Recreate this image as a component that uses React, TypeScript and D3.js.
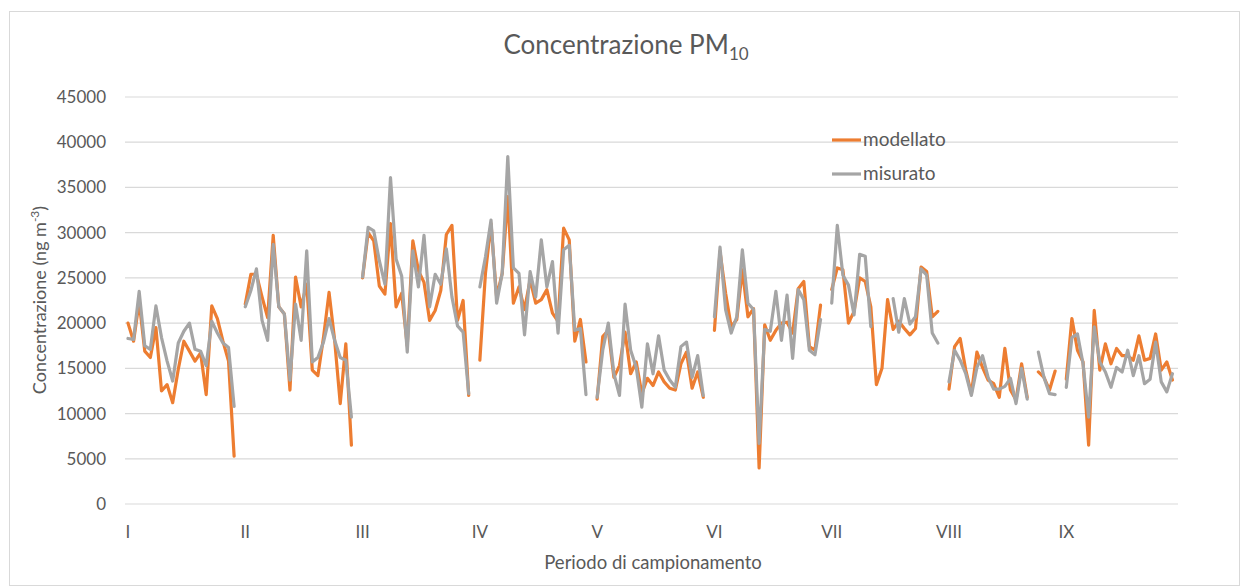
import React from "react";
import * as d3 from "d3";

const periods = ["I", "II", "III", "IV", "V", "VI", "VII", "VIII", "IX"];
const slotsPerPeriod = 21;
const yTicks = [0, 5000, 10000, 15000, 20000, 25000, 30000, 35000, 40000, 45000];

const N = null;
const modellato: (number | null)[] = [
  // I
  20000, 18000, 22400, 16900, 16200, 19500, 12500, 13200, 11200, 14900, 18000, 16900, 15800, 16700, 12100, 21900, 20500, 18000, 15800, 5300, N,
  // II
  22100, 25400, 25400, 22900, 20600, 29700, 21800, 21000, 12600, 25100, 21800, 24300, 14800, 14200, 18400, 23400, 18100, 11100, 17700, 6500, N,
  // III
  25000, 30000, 29100, 24100, 23200, 31000, 21800, 23300, 17500, 29100, 25800, 24500, 20300, 21400, 23600, 29800, 30800, 20300, 22500, 12000, N,
  // IV
  15900, 25500, 31000, 22900, 25500, 34000, 22200, 24000, 21500, 24800, 22200, 22600, 23700, 21100, 20200, 30500, 29200, 18000, 20400, 15700, N,
  // V
  11600, 18500, 19200, 14000, 15300, 19000, 14400, 15700, 12200, 13900, 13100, 14600, 13500, 12800, 12600, 15500, 16800, 12800, 14600, 11800, N,
  // VI
  19200, 27900, 23300, 19600, 20400, 25900, 20700, 21600, 4000, 19800, 18100, 19200, 20000, 20100, 18900, 23800, 24600, 17400, 17000, 22000, N,
  // VII
  23700, 26100, 25900, 20000, 21300, 25000, 24600, 21800, 13200, 15000, 22600, 19300, 20200, 19400, 18700, 19400, 26200, 25700, 20700, 21300, N,
  // VIII
  12700, 17400, 18300, 14800, 12200, 16800, 15100, 13700, 13300, 11800, 17200, 12600, 11500, 15500, 11800, N, 14600, 14000, 12600, 14700, N,
  // IX
  13800, 20500, 17000, 15700, 6500, 21400, 14800, 17700, 15500, 17200, 16400, 16400, 15900, 18600, 15900, 16100, 18800, 14800, 15700, 13700, N,
];

const misurato: (number | null)[] = [
  // I
  18300, 18200, 23500, 17500, 17100, 21900, 18400, 15800, 13600, 17800, 19100, 20000, 17100, 16900, 15300, 20200, 18900, 17800, 17300, 10800, N,
  // II
  21800, 23600, 26000, 20300, 18100, 28700, 21800, 21000, 13700, 22100, 18100, 28000, 15700, 16200, 17900, 20500, 18100, 16200, 15900, 9600, N,
  // III
  25100, 30600, 30200, 26900, 24300, 36100, 27100, 25200, 16800, 28000, 24000, 29700, 21800, 25400, 24300, 28200, 22900, 19700, 19000, 12200, N,
  // IV
  24000, 27300, 31400, 22200, 25500, 38400, 26100, 25500, 18700, 25700, 22900, 29200, 24000, 26800, 18900, 28100, 28600, 19200, 19400, 12100, N,
  // V
  11800, 17000, 20000, 14400, 12000, 22100, 17000, 15100, 10700, 17700, 14400, 18600, 14800, 13700, 12900, 17400, 17900, 14000, 16400, 12000, N,
  // VI
  20700, 28400, 21500, 18900, 20700, 28100, 22200, 21500, 6700, 19300, 19100, 23500, 18100, 23100, 16100, 23700, 22600, 17000, 16500, 20400, N,
  // VII
  22200, 30800, 25300, 24200, 20900, 27600, 27400, 19600, N, N, N, 22700, 19000, 22700, 19900, 20700, 26000, 25300, 18900, 17800, N,
  // VIII
  13500, 17000, 15900, 14400, 12000, 15100, 16400, 14000, 12700, 12700, 13000, 13900, 11100, 15000, 11600, N, 16800, 14000, 12200, 12100, N,
  // IX
  12900, 18400, 18800, 15500, 9600, 19600, 15700, 14600, 12900, 15100, 14600, 17000, 14200, 16400, 13300, 13800, 17900, 13500, 12400, 14400, N,
];

const W = 1247;
const H = 588;
const FONT = "Lato, 'Open Sans', sans-serif";
const TEXT = "#595959";

export default function App() {
  const count = periods.length * slotsPerPeriod;
  const x = d3.scaleLinear().domain([0, count - 1]).range([128, 1178]);
  const y = d3.scaleLinear().domain([0, 45000]).range([504, 97]);

  const line = d3
    .line<number | null>()
    .defined((d) => d != null)
    .x((_, i) => x(i))
    .y((d) => y(d as number));

  const modPath = line(modellato) || "";
  const misPath = line(misurato) || "";

  return (
    <svg
      width={W}
      height={H}
      style={{ position: "absolute", left: 0, top: 0, background: "#fff" }}
      fontFamily={FONT}
    >
      <rect x={9.5} y={11.5} width={1230} height={574} fill="#fff" stroke="#D9D9D9" strokeWidth={1} />
      {/* title */}
      <text x={626} y={54} textAnchor="middle" fontSize={26} fill={TEXT}>
        Concentrazione PM<tspan fontSize={17} dy={6}>10</tspan>
      </text>
      {/* gridlines */}
      {yTicks.map((t) => (
        <line key={t} x1={125} x2={1178} y1={y(t)} y2={y(t)} stroke="#D9D9D9" strokeWidth={1.2} />
      ))}
      {yTicks.map((t) => (
        <text key={"l" + t} x={106} y={y(t) + 6} textAnchor="end" fontSize={17} fill={TEXT}>
          {t}
        </text>
      ))}
      {periods.map((p, i) => (
        <text key={p} x={x(i * slotsPerPeriod)} y={538} textAnchor="middle" fontSize={17} fill={TEXT}>
          {p}
        </text>
      ))}
      {/* series */}
      <path d={modPath} fill="none" stroke="#ED7D31" strokeWidth={3.2} strokeLinejoin="round" strokeLinecap="round" />
      <path d={misPath} fill="none" stroke="#A5A5A5" strokeWidth={3.2} strokeLinejoin="round" strokeLinecap="round" />
      {/* axis titles */}
      <text x={653} y={569} textAnchor="middle" fontSize={18.5} fill={TEXT}>
        Periodo di campionamento
      </text>
      <text transform="translate(46,300) rotate(-90)" textAnchor="middle" fontSize={18} fill={TEXT}>
        Concentrazione  (ng m<tspan fontSize={12} dy={-7}>-3</tspan><tspan dy={7}>)</tspan>
      </text>
      {/* legend */}
      <line x1={832} x2={861} y1={140} y2={140} stroke="#ED7D31" strokeWidth={3.2} />
      <text x={863} y={146} fontSize={19} fill={TEXT}>modellato</text>
      <line x1={832} x2={861} y1={174} y2={174} stroke="#A5A5A5" strokeWidth={3.2} />
      <text x={863} y={180} fontSize={19} fill={TEXT}>misurato</text>
    </svg>
  );
}
